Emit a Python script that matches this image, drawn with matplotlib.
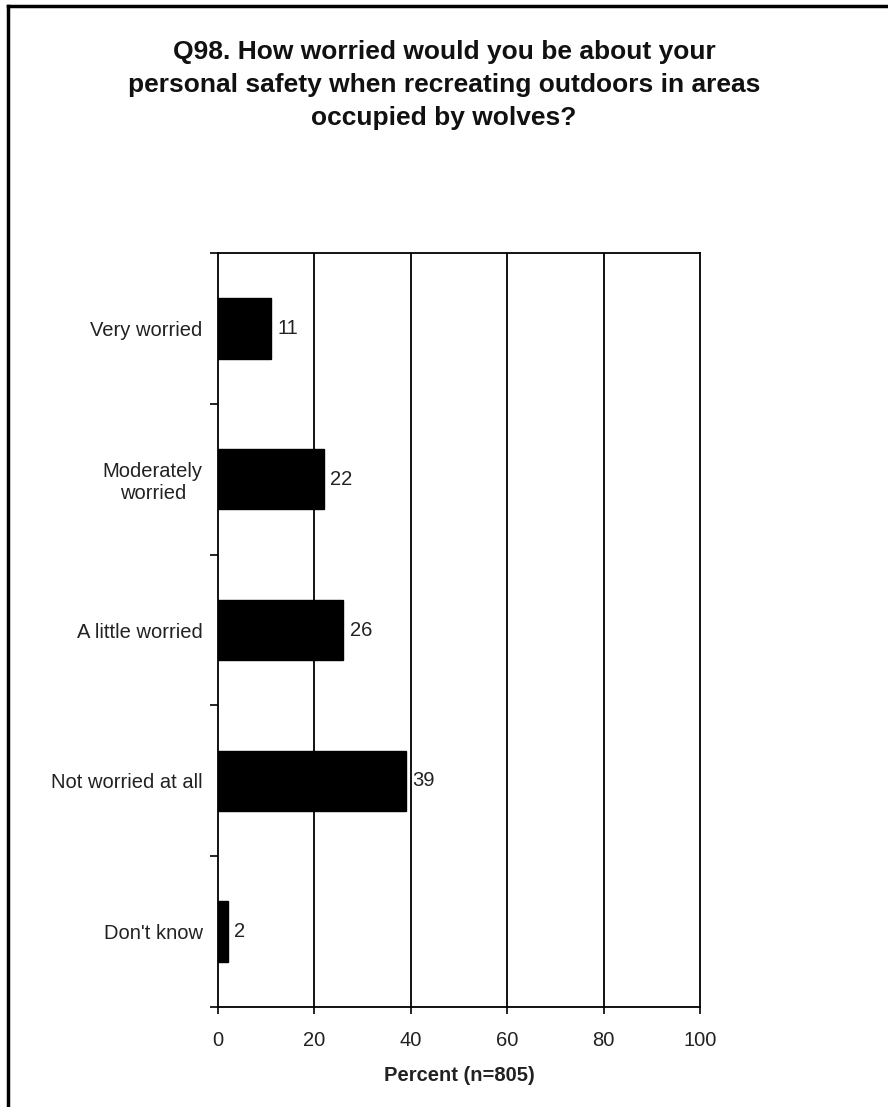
import matplotlib
matplotlib.use("Agg")
import matplotlib.pyplot as plt
from matplotlib.lines import Line2D

categories = ["Very worried", "Moderately\nworried", "A little worried",
              "Not worried at all", "Don't know"]
values = [11, 22, 26, 39, 2]
xticks = [0, 20, 40, 60, 80, 100]
title = ("Q98. How worried would you be about your\n"
         "personal safety when recreating outdoors in areas\n"
         "occupied by wolves?")
xlabel = "Percent (n=805)"

plt.rcParams['font.family'] = ['Liberation Sans', 'DejaVu Sans']

W, H = 888, 1107
fig = plt.figure(figsize=(W / 100, H / 100), dpi=100)
fig.patch.set_facecolor('white')

ax_l, ax_r, ax_t, ax_b = 218, 700, 253, 1007
ax = fig.add_axes([ax_l / W, (H - ax_b) / H, (ax_r - ax_l) / W, (ax_b - ax_t) / H])

n = len(categories)
pos = list(range(n))
ax.barh(pos, values, height=0.40, color='black', edgecolor='black', zorder=3)
ax.set_xlim(0, 100)
ax.set_ylim(n - 0.5, -0.5)

# grid lines
for g in xticks[1:-1]:
    ax.axvline(g, color='black', lw=1.3, zorder=1)

for s in ax.spines.values():
    s.set_color('black')
    s.set_linewidth(1.3)

FS = 14.5
# y ticks: boundaries as major ticks, labels at category centers (minor)
ax.set_yticks([i - 0.5 for i in range(n + 1)])
ax.set_yticklabels([])
ax.tick_params(axis='y', which='major', direction='out', length=6, width=1.2, color='black')
ax.set_yticks(pos, minor=True)
ax.set_yticklabels(categories, minor=True)
ax.tick_params(axis='y', which='minor', length=0, pad=11, labelsize=FS, labelcolor='#222222')
for lbl in ax.get_yticklabels(minor=True):
    lbl.set_multialignment('center')

ax.set_xticks(xticks)
ax.set_xticklabels([str(t) for t in xticks])
ax.tick_params(axis='x', direction='out', length=5, width=1.2, pad=12.5,
               labelsize=FS, labelcolor='#222222', color='black')
ax.set_xlabel(xlabel, fontsize=FS, fontweight='bold', color='#222222', labelpad=11)

for p, v in zip(pos, values):
    ax.annotate(str(v), xy=(v, p), xytext=(4.5, 0), textcoords='offset points',
                va='center', ha='left', fontsize=FS, color='#222222')

fig.text(444 / W, 1 - 85 / H, title, ha='center', va='center', fontsize=19,
         fontweight='bold', color='#111111', linespacing=1.5)

# outer frame (top and left only)
fig.add_artist(Line2D([8 / W, 1], [1 - 6 / H, 1 - 6 / H], color='black', lw=2.5,
                      transform=fig.transFigure))
fig.add_artist(Line2D([8 / W, 8 / W], [0, 1 - 6 / H], color='black', lw=2.5,
                      transform=fig.transFigure))

fig.savefig('out.png', dpi=100)
